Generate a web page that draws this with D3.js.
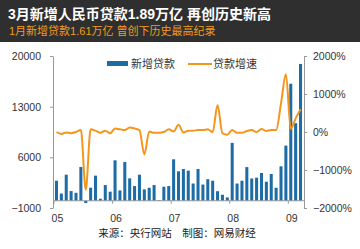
<!DOCTYPE html>
<html>
<head>
<meta charset="utf-8">
<script src="https://cdn.jsdelivr.net/npm/d3@7"></script>
<style>
  body { margin: 0; background: #fff; }
  svg { display: block; font-family: "Liberation Sans", "Noto Sans CJK SC", sans-serif; }
  .axis path, .axis line { stroke: #999; }
  .axis text { fill: #333; font-size: 10.5px; }
</style>
</head>
<body>
<div id="chart"></div>
<script>
// data (新增贷款 in 亿元, 贷款增速 in %)
const years = ["05", "06", "07", "08", "09"];
const loans = [
  2770, 1000, 3600, 1340, 1100, 4670, -320, 1800, 3470, 280, 2170, 1250,
  5590, 1430, 5360, 3100, 2030, 3600, 1570, 1800, 2170, 100, 1940, 2030,
  5730, 4070, 4390, 4160, 2380, 4390, 2240, 2980, 2770, 1320, 830, 460,
  8000, 2380, 2770, 4650, 3080, 3190, 3840, 2630, 3700, 1800, 4760, 7620,
  16170, 10720, 18900
];
const growth = [
  0, -50, -10, -30, 0, 50, -1520, 70, 35, -20, 35, -35,
  95, 70, 50, 120, 95, 50, -590, 10, -20, -20, 0, 70,
  15, 190, -10, 35, 35, 50, 50, 70, 0, 710, -35, -70,
  50, -20, -20, 26, 50, 0, 80, 26, 50, 50, 750, 1520,
  80, 360, 600
];
const leftTicks = [-1000, 6000, 13000, 20000];
const rightTicks = [-2000, -1000, 0, 1000, 2000];

const months = years.flatMap(y => d3.range(1, 13).map(m => y + "-" + m)).slice(0, loans.length);

const width = 360, height = 249;
const blue = "#1d6ca6", orange = "#f5961c";

const svg = d3.select("#chart").append("svg")
  .attr("width", width)
  .attr("height", height);

// title bar
svg.append("rect")
  .attr("width", width).attr("height", 42)
  .attr("fill", "#2f2f2f");
svg.append("text")
  .attr("x", 8).attr("y", 19)
  .attr("fill", "#fff")
  .attr("font-size", 14).attr("font-weight", "bold")
  .text("3月新增人民币贷款1.89万亿 再创历史新高");
svg.append("text")
  .attr("x", 9).attr("y", 35)
  .attr("fill", "#f59b1b")
  .attr("font-size", 11)
  .text("1月新增贷款1.61万亿 曾创下历史最高纪录");

const x = d3.scaleBand()
  .domain(months)
  .range([53, 304])
  .paddingInner(0.38)
  .paddingOuter(0.4);

const y = d3.scaleLinear().domain([-1000, 20000]).range([208, 56]);
const y2 = d3.scaleLinear().domain([-2000, 2000]).range([208, 56]);

// bars
svg.append("g")
  .selectAll("rect")
  .data(loans)
  .join("rect")
    .attr("x", (d, i) => x(months[i]))
    .attr("width", x.bandwidth())
    .attr("y", d => y(Math.max(0, d)))
    .attr("height", d => Math.abs(y(d) - y(0)))
    .attr("fill", blue);

// axes
svg.append("g")
  .attr("class", "axis")
  .attr("transform", "translate(53,0)")
  .call(d3.axisLeft(y).tickValues(leftTicks).tickSize(3).tickSizeOuter(0).tickPadding(9)
    .tickFormat(d3.format("d")));

svg.append("g")
  .attr("class", "axis")
  .attr("transform", "translate(304,0)")
  .call(d3.axisRight(y2).tickValues(rightTicks).tickSize(3).tickSizeOuter(0).tickPadding(6)
    .tickFormat(d => d3.format("d")(d) + "%"));

const gap = x.step() - x.bandwidth();
const xAxis = svg.append("g").attr("class", "axis");
xAxis.append("line")
  .attr("x1", 53).attr("x2", 304)
  .attr("y1", y(0)).attr("y2", y(0))
  .attr("stroke", "#999");
const janMonths = months.filter(m => m.endsWith("-1"));
xAxis.selectAll("line.tick")
  .data(janMonths)
  .join("line")
    .attr("class", "tick")
    .attr("x1", d => x(d) - gap / 2).attr("x2", d => x(d) - gap / 2)
    .attr("y1", y(0)).attr("y2", y(0) + 3)
    .attr("stroke", "#999");
xAxis.selectAll("text")
  .data(janMonths)
  .join("text")
    .attr("x", d => x(d) + x.bandwidth() / 2 + 1)
    .attr("y", 222)
    .attr("text-anchor", "middle")
    .text(d => d.split("-")[0]);

// growth line
const line = d3.line()
  .x((d, i) => x(months[i]) + x.bandwidth() / 2)
  .y(d => y2(d))
  .curve(d3.curveMonotoneX);

svg.append("path")
  .datum(growth)
  .attr("d", line)
  .attr("fill", "none")
  .attr("stroke", orange)
  .attr("stroke-width", 2);

// legend
svg.append("rect")
  .attr("x", 107).attr("y", 61)
  .attr("width", 21).attr("height", 5)
  .attr("fill", blue);
svg.append("text")
  .attr("x", 131).attr("y", 67.5)
  .attr("font-size", 11).attr("fill", "#333")
  .text("新增贷款");
svg.append("line")
  .attr("x1", 188).attr("x2", 212)
  .attr("y1", 64).attr("y2", 64)
  .attr("stroke", orange).attr("stroke-width", 2);
svg.append("text")
  .attr("x", 213).attr("y", 67.5)
  .attr("font-size", 11).attr("fill", "#333")
  .text("贷款增速");

// source
svg.append("text")
  .attr("x", 177).attr("y", 237)
  .attr("text-anchor", "middle")
  .attr("font-size", 10.5).attr("fill", "#222")
  .text("来源：央行网站　制图：网易财经");
</script>
</body>
</html>
